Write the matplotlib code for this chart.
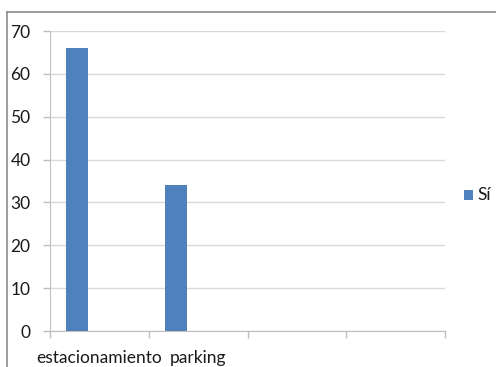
import matplotlib
matplotlib.use("Agg")
import matplotlib.pyplot as plt
from matplotlib.lines import Line2D
from matplotlib.patches import Rectangle
import numpy as np

categories = ["estacionamiento", "parking", "", ""]
si_values = [66, 34, None, None]
y_ticks = [0, 10, 20, 30, 40, 50, 60, 70]
series_name = "Sí"

plt.rcParams["font.family"] = ["Lato", "DejaVu Sans"]

W, H = 496, 367
fig = plt.figure(figsize=(W / 100, H / 100), dpi=100)
fig.patch.set_facecolor("white")

# outer chart frame (left and top edges visible)
fig.add_artist(Line2D([7 / W, 7 / W], [1 - 12 / H, 0], transform=fig.transFigure,
                      color="#8c8c8c", lw=1.2))
fig.add_artist(Line2D([7 / W, 1], [1 - 12 / H, 1 - 12 / H], transform=fig.transFigure,
                      color="#8c8c8c", lw=1.2))

ax = fig.add_axes([50 / W, 1 - 331 / H, 395 / W, 300 / H])

x = np.arange(len(categories))
bar_w = 0.222
offset = -0.222
for xi, v in zip(x, si_values):
    if v is not None:
        ax.bar(xi + offset, v, width=bar_w, color="#4f81bd", zorder=3)

ax.set_xlim(-0.5, len(categories) - 0.5)
ax.set_ylim(0, 70)
ax.set_yticks(y_ticks)
ax.set_yticklabels([str(t) for t in y_ticks], fontsize=12.5, color="#1a1a1a")
ax.yaxis.grid(True, color="#d9d9d9", lw=1.0, zorder=0)

# category boundaries carry tick marks, centres carry the labels
ax.set_xticks(np.arange(-0.5, len(categories)), minor=False)
ax.set_xticklabels([""] * (len(categories) + 1))
ax.set_xticks(x, minor=True)
ax.set_xticklabels(categories, minor=True, fontsize=12.5, color="#1a1a1a")
ax.tick_params(axis="x", which="major", length=5, color="#bfbfbf", width=1)
ax.tick_params(axis="x", which="minor", length=0, pad=14)
ax.tick_params(axis="y", length=5, color="#bfbfbf", width=1, pad=9)

for side in ["top", "right"]:
    ax.spines[side].set_visible(False)
ax.spines["left"].set_color("#bfbfbf")
ax.spines["bottom"].set_color("#bfbfbf")

# legend entry
fig.add_artist(Rectangle((464 / W, 1 - 200 / H), 9 / W, 10 / H, transform=fig.transFigure,
                         facecolor="#4f81bd", edgecolor="none"))
fig.text(477 / W, 1 - 195 / H, series_name, fontsize=12.5, color="#1a1a1a",
         va="center", ha="left")

fig.savefig("out.png", dpi=100, facecolor="white")
